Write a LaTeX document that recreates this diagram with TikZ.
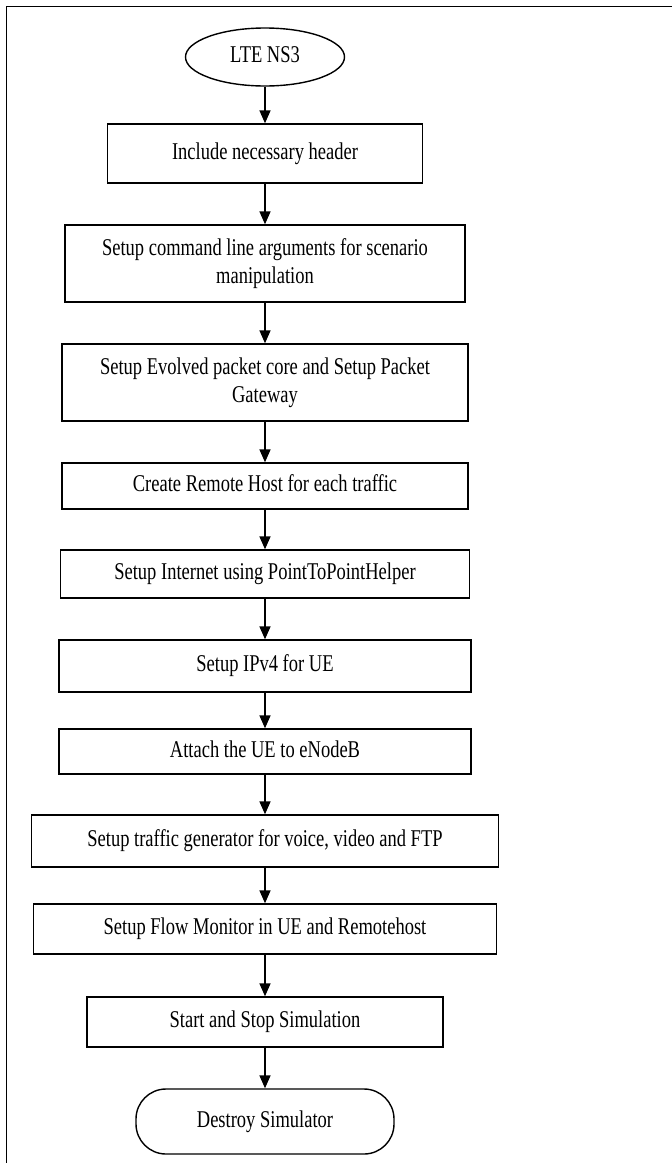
\documentclass[tikz,border=0pt]{standalone}
\usepackage{fontspec}
\usepackage{graphicx}
\setmainfont{Liberation Serif}
\usetikzlibrary{shapes.geometric,arrows.meta}
\newcommand{\tallText}[1]{\scalebox{1}[1.3]{\begin{tabular}{@{}c@{}}#1\end{tabular}}}
\begin{document}
\begin{tikzpicture}[x=1pt, y=-1pt, >={Triangle[width=11pt,length=13pt]},
  every node/.style={font=\fontsize{18.5}{21.5}\selectfont, align=center, inner sep=0pt},
  stepbox/.style={draw, rectangle, line width=1.4pt, minimum height=#1},
  stepbox/.default=50pt,
  startnode/.style={draw, ellipse, line width=1.4pt, minimum width=159pt, minimum height=58pt},
  endnode/.style={draw, rectangle, rounded corners=30pt, line width=1.4pt, minimum width=258pt, minimum height=65pt},
  flow/.style={->, line width=1.6pt}]
  \useasboundingbox (0,0) rectangle (672,1163);
  % outer frame (left and top only)
  \draw[line width=1.6pt] (6.5,1163) -- (6.5,6.5) -- (672,6.5);
  \node[startnode] (lte) at (265,57) {\tallText{LTE NS3}};
  \node[stepbox=59pt, minimum width=315pt] (hdr) at (265,153.5) {\tallText{Include necessary header}};
  \node[stepbox=77pt, minimum width=400pt] (args) at (265,263.5) {\tallText{Setup command line arguments for scenario\\ manipulation}};
  \node[stepbox=77pt, minimum width=406pt] (epc) at (265,382.5) {\tallText{Setup Evolved packet core and Setup Packet\\ Gateway}};
  \node[stepbox=46pt, minimum width=406pt] (host) at (265,486) {\tallText{Create Remote Host for each traffic}};
  \node[stepbox=48pt, minimum width=409pt] (inet) at (265,574) {\tallText{Setup Internet using PointToPointHelper}};
  \node[stepbox=52pt, minimum width=412pt] (ipv4) at (265,666) {\tallText{Setup IPv4 for UE}};
  \node[stepbox=45pt, minimum width=412pt] (attach) at (265,751.5) {\tallText{Attach the UE to eNodeB}};
  \node[stepbox=52pt, minimum width=467pt] (traffic) at (265,841) {\tallText{Setup traffic generator for voice, video and FTP}};
  \node[stepbox=50pt, minimum width=463pt] (monitor) at (265,929) {\tallText{Setup Flow Monitor in UE and Remotehost}};
  \node[stepbox=50pt, minimum width=356pt] (sim) at (265,1022) {\tallText{Start and Stop Simulation}};
  \node[endnode] (destroy) at (265,1121.5) {\tallText{Destroy Simulator}};
  \draw[flow] (lte) -- (hdr);
  \draw[flow] (hdr) -- (args);
  \draw[flow] (args) -- (epc);
  \draw[flow] (epc) -- (host);
  \draw[flow] (host) -- (inet);
  \draw[flow] (inet) -- (ipv4);
  \draw[flow] (ipv4) -- (attach);
  \draw[flow] (attach) -- (traffic);
  \draw[flow] (traffic) -- (monitor);
  \draw[flow] (monitor) -- (sim);
  \draw[flow] (sim) -- (destroy);
\end{tikzpicture}
\end{document}
